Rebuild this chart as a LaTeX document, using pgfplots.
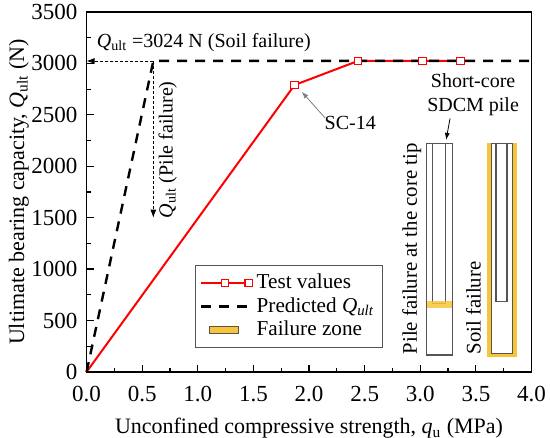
\documentclass[border=0pt]{standalone}
\usepackage{fontspec}
\setmainfont{Liberation Serif}
\usepackage{pgfplots}
\pgfplotsset{compat=1.18}
\usetikzlibrary{arrows.meta,calc}
\definecolor{failyellow}{RGB}{249,197,56}
\definecolor{pilegray}{RGB}{85,85,85}
\newcommand{\Qult}{\textit{Q}\textsubscript{ult}}
\newcommand{\annfont}{\fontsize{10}{12}\selectfont}
\begin{document}
\fontsize{11}{13.2}\selectfont
\begin{tikzpicture}
\begin{axis}[
 name=ax,
 scale only axis, width=222.5pt, height=180pt,
 xmin=0,xmax=4,ymin=0,ymax=3500,
 xtick distance=0.5, ytick distance=500,
 minor x tick num=1, minor y tick num=1,
 tick align=inside, xtick pos=bottom, ytick pos=left,
 major tick length=3.5pt, minor tick length=2pt,
 axis line style={line width=0.75pt},
 every tick/.append style={black,line width=0.6pt},
 /pgf/number format/assume math mode=true,
 tick label style={font=\fontsize{11.5}{13.8}\selectfont},
 xticklabel style={yshift=-3.5pt,/pgf/number format/.cd,fixed,fixed zerofill,precision=1},
 yticklabel style={xshift=-0.8pt,/pgf/number format/.cd,1000 sep={}},
 xlabel={Unconfined compressive strength, \textit{q}\textsubscript{u} (MPa)},
 xlabel style={yshift=-0.5pt},
 ylabel={Ultimate bearing capacity, \Qult{} (N)},
 ylabel style={at={(axis description cs:-0.152,0.5)}, anchor=center},
 clip=false,
 legend style={at={(0.2436,0.297)}, anchor=north west, draw=pilegray, line width=0.5pt, row sep=-1.2pt, inner sep=2.2pt, font=\fontsize{10.6}{12.7}\selectfont},
 legend cell align=left,
 legend image code/.code={\draw[mark repeat=2,mark phase=2,#1] plot coordinates {(0cm,0cm) (0.42cm,0cm) (0.84cm,0cm)};},
]
\addplot[red, line width=1pt, mark=square*, mark size=1.9pt, mark options={fill=white, draw=red, line width=0.6pt, solid}, mark indices={2,3,4,5}]
 coordinates {(0,0) (1.87,2790) (2.44,3024) (3.02,3024) (3.36,3024)};
\addlegendentry{Test values}
\addplot[black, line width=1.2pt, dash pattern=on 5pt off 4pt]
 coordinates {(0,0) (0.6,3024) (4,3024)};
\addlegendentry{Predicted \textit{Q}\textsubscript{\textit{ult}}}
\addlegendimage{legend image code/.code={\draw[fill=failyellow,draw=pilegray,line width=0.5pt] (0.15cm,-0.06cm) rectangle (0.66cm,0.06cm);}}
\addlegendentry{Failure zone}
\addplot[only marks, mark=square*, mark size=1.9pt, mark options={fill=white, draw=red, line width=0.6pt, solid}, forget plot]
 coordinates {(1.87,2790) (2.44,3024) (3.02,3024) (3.36,3024)};

% dotted guide arrows
\draw[black, line width=0.4pt, dash pattern=on 1.5pt off 1pt, -{Latex[length=4pt,width=3pt]}] (axis cs:0.6,3024) -- (axis cs:0,3024);
\draw[black, line width=0.4pt, dash pattern=on 1.5pt off 1pt, -{Latex[length=4pt,width=3pt]}] (axis cs:0.6,3024) -- (axis cs:0.6,1500);

\node[anchor=west, inner sep=0pt, font=\annfont] at (axis cs:0.09,3200) {\Qult{} =3024 N (Soil failure)};
\node[anchor=west, rotate=90, inner sep=0pt, font=\annfont] at (axis cs:0.73,1490) {\Qult{} (Pile failure)};

\node[inner sep=0pt, font=\annfont] at (axis cs:2.37,2421) {SC-14};
\draw[gray, line width=0.4pt, -{Latex[length=3.5pt,width=2.5pt]}] (axis cs:2.144,2470) -- (axis cs:1.934,2725);

\node[align=center, inner sep=0pt, font=\annfont] at (axis cs:3.475,2693) {Short-core\\SDCM pile};
\draw[black, line width=0.4pt, -{Latex[length=3.5pt,width=2.5pt]}] (axis cs:3.268,2466) -- (axis cs:3.232,2256);

% left pile: failure at core tip
\draw[pilegray, line width=0.6pt] (axis cs:3.058,2223) rectangle (axis cs:3.289,165);
\draw[pilegray, line width=0.6pt] (axis cs:3.112,2223) rectangle (axis cs:3.229,668);
\fill[failyellow, opacity=0.85] (axis cs:3.058,690) rectangle (axis cs:3.289,620);

% right pile: soil failure
\fill[failyellow] (axis cs:3.603,2223) rectangle (axis cs:3.868,146);
\fill[white] (axis cs:3.637,2223) rectangle (axis cs:3.832,182);
\draw[pilegray, line width=0.6pt] (axis cs:3.637,2223) rectangle (axis cs:3.832,182);
\draw[pilegray, line width=0.6pt] (axis cs:3.681,2223) rectangle (axis cs:3.780,683);

\node[rotate=90, inner sep=0pt, font=\fontsize{10.4}{12.5}\selectfont] at (axis cs:2.924,1196) {Pile failure at the core tip};
\node[rotate=90, inner sep=0pt, font=\fontsize{10.4}{12.5}\selectfont] at (axis cs:3.478,622) {Soil failure};
\end{axis}
\pgfresetboundingbox
\path ($(ax.south west)+(-43.3pt,-33pt)$) rectangle ($(ax.north east)+(9.25pt,6pt)$);
\end{tikzpicture}
\end{document}
